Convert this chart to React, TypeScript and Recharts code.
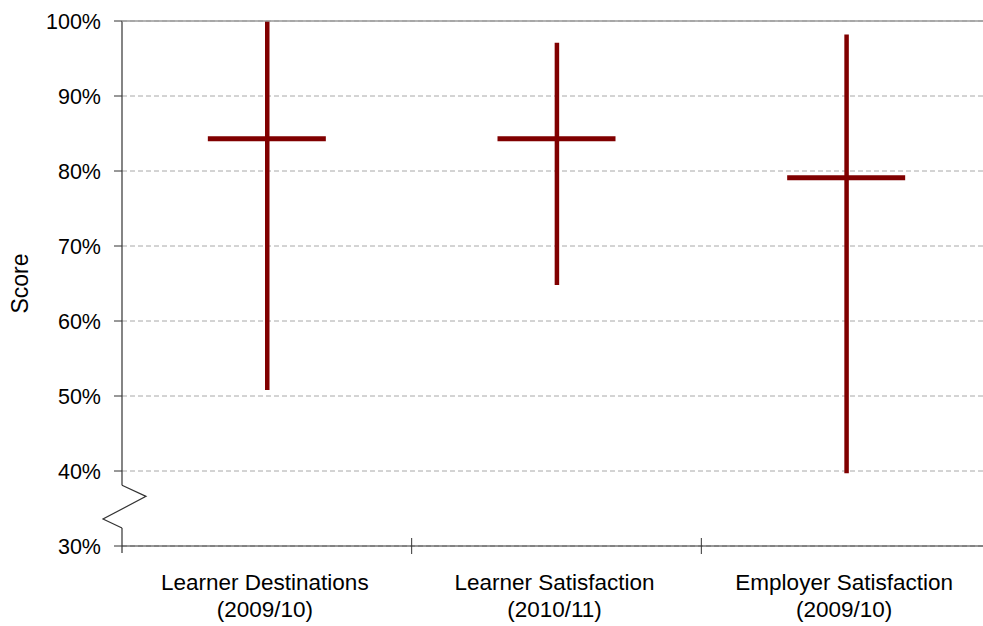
import {
  ComposedChart,
  Bar,
  Scatter,
  XAxis,
  YAxis,
  CartesianGrid,
  ReferenceLine,
  ReferenceArea,
} from 'recharts'

const categoryNames = ['Learner Destinations', 'Learner Satisfaction', 'Employer Satisfaction']
const categoryYears = ['(2009/10)', '(2010/11)', '(2009/10)']
const lowScores = [50.8, 64.8, 39.7]
const highScores = [100, 97.1, 98.2]
const midScores = [84.3, 84.3, 79.1]
const yTicks = [30, 40, 50, 60, 70, 80, 90, 100]
// part of the y axis that is drawn as a zigzag break
const breakRange = [32.4, 38.1]

const RED = '#800000'
const AXIS = '#333333'
const FONT = '"Liberation Sans", Arial, sans-serif'

const data = categoryNames.map((name, i) => ({
  name,
  year: categoryYears[i],
  range: [lowScores[i], highScores[i]],
  mid: midScores[i],
}))

function CategoryTick(props: any) {
  const { x, y, payload, index } = props
  const i = categoryNames.indexOf(payload.value)
  const half = payload.offset ?? 0
  return (
    <g>
      {index > 0 && (
        <line x1={x - half} x2={x - half} y1={y - 8} y2={y + 8} stroke={AXIS} strokeWidth={1} />
      )}
      <text x={x - 2} y={y + 44} textAnchor="middle" fontSize={22.5} fill="#000" fontFamily={FONT}>
        {categoryNames[i]}
      </text>
      <text x={x - 2} y={y + 71} textAnchor="middle" fontSize={22.5} fill="#000" fontFamily={FONT}>
        {categoryYears[i]}
      </text>
    </g>
  )
}

function MidMark(props: any) {
  const { cx, cy } = props
  return <rect x={cx - 59} y={cy - 2.5} width={118} height={5} fill={RED} />
}

function AxisSegment(props: any) {
  const { x, y, height, extend = 0 } = props
  return <line x1={x} x2={x} y1={y} y2={y + height + extend} stroke={AXIS} strokeWidth={1.2} />
}

function AxisBreak(props: any) {
  const { x, y, height } = props
  const d = `M${x},${y} L${x + 24},${y + height * 0.26} L${x - 19},${y + height * 0.79} L${x},${y + height}`
  return <path d={d} fill="none" stroke={AXIS} strokeWidth={1.2} />
}

function ScoreLabel(props: any) {
  const { viewBox } = props
  const cx = viewBox.x + 20
  const cy = viewBox.y + viewBox.height / 2
  return (
    <text
      x={cx}
      y={cy}
      transform={`rotate(-90, ${cx}, ${cy})`}
      textAnchor="middle"
      dominantBaseline="central"
      fontSize={23}
      fill="#000"
      fontFamily={FONT}
    >
      Score
    </text>
  )
}

export default function App() {
  return (
    <div
      style={{
        position: 'fixed',
        left: 0,
        top: 0,
        width: 983,
        height: 626,
        overflow: 'hidden',
        background: '#fff',
      }}
    >
      <ComposedChart
        width={996}
        height={626}
        data={data}
        margin={{ top: 21, right: 5, left: 0, bottom: 10 }}
        style={{ fontFamily: FONT }}
      >
        <CartesianGrid vertical={false} stroke="#a8a8a8" strokeDasharray="5 3" />
        <ReferenceLine y={100} stroke="#999999" strokeWidth={1.5} />
        <XAxis
          dataKey="name"
          height={70}
          axisLine={{ stroke: AXIS, strokeWidth: 1.2 }}
          tickLine={false}
          tickSize={0}
          tickMargin={0}
          interval={0}
          tick={<CategoryTick />}
        />
        <YAxis
          type="number"
          domain={[30, 100]}
          ticks={yTicks}
          width={122}
          axisLine={false}
          tickLine={{ stroke: AXIS }}
          tickSize={8}
          tickMargin={13}
          tickFormatter={(v: number) => `${v}%`}
          tick={{ fontSize: 21.5, fill: '#000', fontFamily: FONT }}
          label={<ScoreLabel />}
        />
        <ReferenceArea y1={30} y2={breakRange[0]} fill="none" shape={(p: any) => <AxisSegment {...p} extend={7} />} />
        <ReferenceArea y1={breakRange[1]} y2={100} fill="none" shape={(p: any) => <AxisSegment {...p} />} />
        <ReferenceArea y1={breakRange[0]} y2={breakRange[1]} fill="none" shape={(p: any) => <AxisBreak {...p} />} />
        <Bar dataKey="range" barSize={4.5} fill={RED} isAnimationActive={false} />
        <Scatter dataKey="mid" shape={<MidMark />} isAnimationActive={false} />
      </ComposedChart>
    </div>
  )
}
